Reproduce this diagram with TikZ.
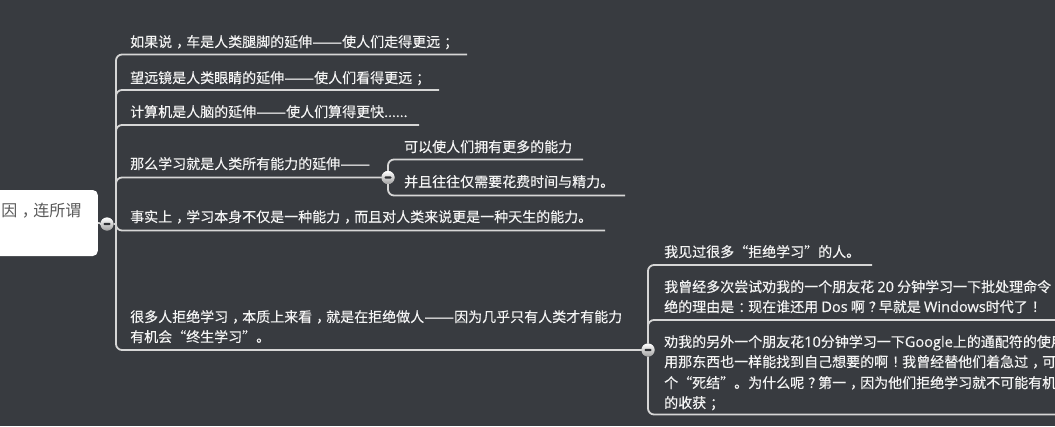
\documentclass[tikz,border=0pt]{standalone}
\usepackage{fontspec}
\setmainfont[FakeBold=0.12]{Noto Sans CJK SC}
\newfontfamily\cjkb[FakeBold=0.35]{Noto Sans CJK SC}
\newfontfamily\rootf{Noto Sans CJK SC}
\newfontfamily\latn[Scale=1.04,FakeBold=0.35]{Open Sans}
\newcommand\pc[1]{\kern4pt #1\kern-4pt}
\newcommand\lt[1]{{\latn #1}}
\newcommand\dd{\resizebox{30pt}{\height}{——}}
\definecolor{bgc}{HTML}{383B40}
\definecolor{linec}{HTML}{D6D6D6}
\definecolor{txtc}{HTML}{F4F4F4}
\definecolor{roottxt}{HTML}{5A5A5A}
\tikzset{
  lbl/.style={anchor=base west,inner sep=0pt,text=txtc,font=\fontsize{14}{20.5}\selectfont,align=left},
  lblb/.style={anchor=base west,inner sep=0pt,text=txtc,font=\fontsize{14}{20.5}\selectfont\cjkb,align=left},
  conn/.style={draw=linec,line width=1.8pt,rounded corners=6pt},
  knob/.style={circle,top color=white,bottom color=linec!75!black,draw=none,minimum size=13pt,inner sep=0pt,
    path picture={\fill[bgc!80!black,rounded corners=1pt] ([xshift=-3.5pt,yshift=-1.2pt]path picture bounding box.center) rectangle ([xshift=3.5pt,yshift=1.2pt]path picture bounding box.center);}},
  rootbox/.style={fill=white,draw=none,rounded corners=5pt,anchor=east,minimum width=130pt,minimum height=66pt,inner sep=0pt},
}
\begin{document}
\begin{tikzpicture}[x=1pt,y=1pt]
\fill[bgc] (0,0) rectangle (1055,-426);
\useasboundingbox (0,0) rectangle (1055,-426);
\clip (0,0) rectangle (1055,-426);
% root
\node[rootbox] (root) at (98,-223) {};
\node[anchor=base east,inner sep=0pt,text=roottxt,font=\fontsize{16}{20}\selectfont\rootf] (roottext) at (81.5,-216) {因\kern4.5pt ，\kern-4.5pt 连所谓};
% coordinates
\coordinate (trunk) at (116,-224);
\coordinate (e1) at (467,-54.5);
\coordinate (e2) at (439,-90);
\coordinate (e3) at (419,-125);
\coordinate (e5) at (605,-230.5);
\coordinate (s1) at (583,-159.5);
\coordinate (s2) at (625,-195.5);
\coordinate (t1) at (872,-265);
\coordinate (t2) at (1056,-320);
\coordinate (t3) at (1056,-414.5);
% knobs placed first as names
\node[knob] (k0) at (107,-224) {};
\node[knob] (k1) at (388,-177.5) {};
\node[knob] (k2) at (648,-350) {};
% connectors
\draw[conn] (root.east) -- (k0);
\draw[conn] (k0) -- (trunk);
\draw[conn] (trunk) |- (e1);
\draw[conn] (trunk) |- (e2);
\draw[conn] (trunk) |- (e3);
\draw[conn] (trunk) |- (k1);
\draw[conn] (trunk) |- (e5);
\draw[conn] (trunk) |- (k2);
\draw[conn] (k1) |- (s1);
\draw[conn] (k1) |- (s2);
\draw[conn] (k2) |- (t1);
\draw[conn] (k2) |- (t2);
\draw[conn] (k2) |- (t3);
% redraw knobs above the connectors
\node[knob] at (k0) {};
\node[knob] at (k1) {};
\node[knob] at (k2) {};
% labels
\node[lbl] (n1) at (130,-47) {如果说\pc{，}车是人类腿脚的延伸\dd 使人们走得更远\pc{；}};
\node[lbl] (n2) at (130,-83) {望远镜是人类眼睛的延伸\dd 使人们看得更远\pc{；}};
\node[lbl] (n3) at (130,-117) {计算机是人脑的延伸\dd 使人们算得更快......};
\node[lbl] (n4) at (130,-169) {那么学习就是人类所有能力的延伸\dd};
\node[lbl] (n5) at (130,-222) {事实上\pc{，}学习本身不仅是一种能力\pc{，}而且对人类来说更是一种天生的能力。};
\node[lbl] (n6) at (130,-322) {很多人拒绝学习\pc{，}本质上来看\pc{，}就是在拒绝做人\dd 因为几乎只有人类才有能力};
\node[lbl] (n6b) at (130,-342) {有机会“终生学习”。};
\node[lblb] (m1) at (404,-152) {可以使人们拥有更多的能力};
\node[lblb] (m2) at (404,-187) {并且往往仅需要花费时间与精力。};
\node[lblb] (p1) at (664,-257) {我见过很多“拒绝学习”的人。};
\node[lblb] (p2) at (664,-292) {我曾经多次尝试劝我的一个朋友花 \lt{20} 分钟学习一下批处理命令};
\node[lblb] (p2b) at (664,-312) {绝的理由是\pc{：}现在谁还用 \lt{Dos} 啊\pc{？}早就是 \lt{Windows}时代了\pc{！}};
\node[lblb] (p3) at (664,-347) {劝我的另外一个朋友花\lt{10}分钟学习一下\lt{Google}上的通配符的使用};
\node[lblb] (p3b) at (664,-367) {用那东西也一样能找到自己想要的啊\pc{！}我曾经替他们着急过\pc{，}可};
\node[lblb] (p3c) at (664,-388) {个“死结”。为什么呢\pc{？}第一\pc{，}因为他们拒绝学习就不可能有机};
\node[lblb] (p3d) at (664,-408) {的收获\pc{；}};
\end{tikzpicture}
\end{document}
